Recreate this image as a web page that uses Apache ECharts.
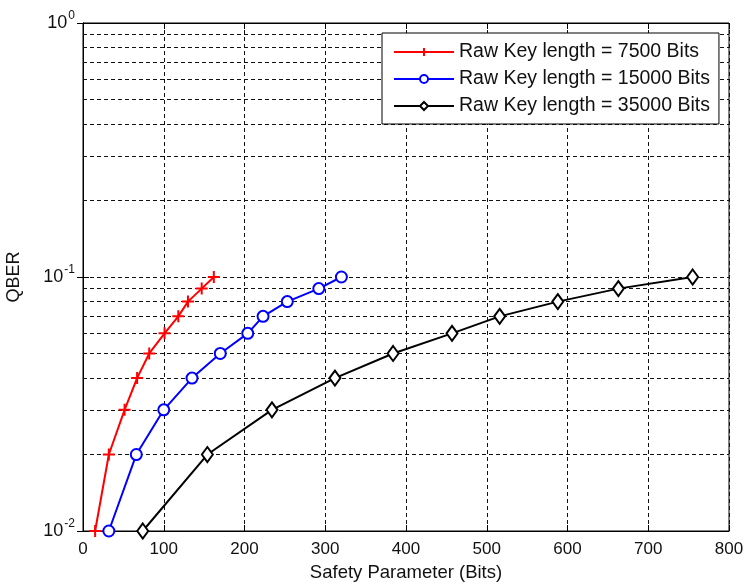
<!DOCTYPE html>
<html>
<head>
<meta charset="utf-8">
<script src="https://cdn.jsdelivr.net/npm/echarts@6/dist/echarts.min.js"></script>
<style>html,body{margin:0;padding:0;background:#fff;}#c{width:745px;height:585px;}</style>
</head>
<body>
<div id="c"></div>
<script>
// Data
const qber = [0.01, 0.02, 0.03, 0.04, 0.05, 0.06, 0.07, 0.08, 0.09, 0.1];
const safety7500 = [15, 32, 51.5, 67, 82, 101, 118, 130, 147, 162];
const safety15000 = [32, 66, 100, 135, 170, 204, 223, 253, 292, 320];
const safety35000 = [74, 154, 234, 312, 384, 457, 516, 588, 663, 755];
const seriesNames = ['Raw Key length = 7500 Bits', 'Raw Key length = 15000 Bits', 'Raw Key length = 35000 Bits'];
const xTicks = [0, 100, 200, 300, 400, 500, 600, 700, 800];
const minorY = [0.02, 0.03, 0.04, 0.05, 0.06, 0.07, 0.08, 0.09, 0.2, 0.3, 0.4, 0.5, 0.6, 0.7, 0.8, 0.9];

const pair = (xs) => xs.map((x, i) => [x, qber[i]]);
const FONT = 'Liberation Sans, Arial, sans-serif';
const dash = [4, 3];

const chart = echarts.init(document.getElementById('c'), null, {renderer: 'canvas'});
chart.setOption({
  animation: false,
  backgroundColor: '#fff',
  grid: {left: 83, top: 23, right: 16, bottom: 54, show: true, borderColor: '#000', borderWidth: 1,
    backgroundColor: 'transparent', containLabel: false, outerBoundsMode: 'none'},
  legend: {
    orient: 'vertical', left: 382, top: 33, z: 20,
    data: seriesNames,
    backgroundColor: '#fff', borderColor: '#000', borderWidth: 1, borderRadius: 0,
    padding: [8, 9, 7, 11],
    itemWidth: 60, itemHeight: 10, itemGap: 5,
    textStyle: {fontFamily: FONT, fontSize: 19.5, lineHeight: 22, color: '#111'}
  },
  xAxis: [{
    type: 'value', min: 0, max: 800, interval: 100,
    name: 'Safety Parameter (Bits)', nameLocation: 'middle', nameGap: 32,
    nameTextStyle: {fontFamily: FONT, fontSize: 18.5, color: '#111'},
    axisLine: {show: true, lineStyle: {color: '#000', width: 1}},
    axisTick: {show: true, inside: true, length: 6, lineStyle: {color: '#000'}},
    axisLabel: {fontFamily: FONT, fontSize: 17, color: '#111', margin: 10,
      formatter: (v) => xTicks.includes(v) ? String(v) : ''},
    splitLine: {show: true, lineStyle: {color: '#111', type: dash, width: 1}}
  }, {
    type: 'value', position: 'top', min: 0, max: 800, interval: 100,
    axisLine: {show: true, lineStyle: {color: '#000'}},
    axisTick: {show: true, inside: true, length: 6, lineStyle: {color: '#000'}},
    axisLabel: {show: false}, splitLine: {show: false}
  }],
  yAxis: [{
    type: 'log', logBase: 10, min: 0.01, max: 1,
    name: 'QBER', nameLocation: 'middle', nameGap: 60, nameRotate: 90,
    nameTextStyle: {fontFamily: FONT, fontSize: 18, color: '#111'},
    axisLine: {show: true, lineStyle: {color: '#000', width: 1}},
    axisTick: {show: true, inside: true, length: 6, lineStyle: {color: '#000'}},
    axisLabel: {
      fontFamily: FONT, fontSize: 18, color: '#111', margin: 8,
      formatter: (v) => '10{sup|' + Math.round(Math.log10(v)) + '}',
      rich: {sup: {fontFamily: FONT, fontSize: 12, color: '#111', verticalAlign: 'top', padding: [0, 0, 14, 1]}}
    },
    splitLine: {show: true, lineStyle: {color: '#111', type: dash, width: 1}}
  }, {
    type: 'log', logBase: 10, min: 0.01, max: 1, position: 'right',
    axisLine: {show: true, lineStyle: {color: '#000'}},
    axisTick: {show: true, inside: true, length: 6, lineStyle: {color: '#000'}},
    axisLabel: {show: false}, splitLine: {show: false}
  }],
  series: [
    {
      type: 'line', data: [], silent: true, z: 1,
      markLine: {
        silent: true, symbol: ['none', 'none'], animation: false, z: 1,
        label: {show: false},
        lineStyle: {color: '#111', type: dash, width: 1},
        data: minorY.map(v => ({yAxis: v}))
      }
    },
    {
      name: seriesNames[0], type: 'line', data: pair(safety7500), z: 3,
      symbol: 'path://M0,5L10,5M5,0L5,10', symbolSize: 12, showAllSymbol: true,
      lineStyle: {color: '#ff0000', width: 2},
      itemStyle: {color: '#ff0000', borderColor: '#ff0000', borderWidth: 2}
    },
    {
      name: seriesNames[1], type: 'line', data: pair(safety15000), z: 3,
      symbol: 'emptyCircle', symbolSize: 11, showAllSymbol: true,
      lineStyle: {color: '#0000ff', width: 2},
      itemStyle: {color: '#0000ff', borderColor: '#0000ff', borderWidth: 2}
    },
    {
      name: seriesNames[2], type: 'line', data: pair(safety35000), z: 3,
      symbol: 'emptyDiamond', symbolSize: [11, 15], showAllSymbol: true,
      lineStyle: {color: '#000', width: 2},
      itemStyle: {color: '#000', borderColor: '#000', borderWidth: 2}
    }
  ]
});
</script>
</body>
</html>
